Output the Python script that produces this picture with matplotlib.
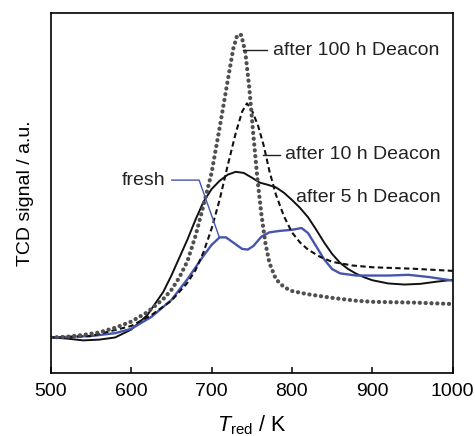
import matplotlib
matplotlib.use('Agg')
import matplotlib.pyplot as plt

plt.rcParams['font.family'] = ['Liberation Sans', 'DejaVu Sans']
plt.rcParams['mathtext.fontset'] = 'custom'
plt.rcParams['mathtext.rm'] = 'Liberation Sans'
plt.rcParams['mathtext.it'] = 'Liberation Sans:italic'

# TPR-Kurven (willkürliche Einheiten)
t_100h = [500, 520, 540, 560, 580, 600, 620, 640, 650, 660, 670, 680, 690, 700, 710, 720,
          727, 732, 737, 742, 747, 752, 757, 762, 767, 772, 780, 790, 800, 820, 850, 880,
          900, 950, 1000]
s_100h = [0.98, 1.00, 1.05, 1.12, 1.25, 1.42, 1.68, 2.05, 2.30, 2.65, 3.10, 3.80, 4.65, 5.55,
          6.80, 8.10, 9.00, 9.38, 9.38, 8.90, 7.90, 6.60, 5.40, 4.40, 3.60, 3.05, 2.60, 2.38,
          2.27, 2.18, 2.08, 2.00, 1.97, 1.95, 1.91]

t_10h = [500, 550, 600, 625, 650, 670, 680, 690, 700, 710, 720, 730, 738, 744, 750, 758, 765,
         772, 780, 790, 800, 810, 820, 835, 850, 875, 900, 950, 1000]
s_10h = [0.98, 1.02, 1.30, 1.60, 2.00, 2.50, 2.85, 3.35, 4.00, 4.80, 5.75, 6.65, 7.25, 7.48,
         7.30, 6.85, 6.30, 5.60, 4.95, 4.35, 3.90, 3.62, 3.42, 3.22, 3.08, 2.98, 2.93, 2.89, 2.83]

t_5h = [500, 520, 540, 560, 580, 600, 620, 640, 650, 660, 670, 680, 690, 700, 710, 720, 730,
        740, 750, 760, 770, 780, 790, 800, 810, 820, 830, 840, 850, 860, 870, 880, 890, 900,
        920, 940, 960, 980, 1000]
s_5h = [0.98, 0.95, 0.90, 0.92, 0.98, 1.20, 1.60, 2.25, 2.70, 3.20, 3.70, 4.25, 4.75, 5.10,
        5.33, 5.50, 5.58, 5.55, 5.42, 5.28, 5.22, 5.15, 5.00, 4.80, 4.58, 4.32, 3.98, 3.62,
        3.30, 3.05, 2.88, 2.75, 2.65, 2.57, 2.48, 2.45, 2.47, 2.53, 2.58]

t_fresh = [500, 550, 580, 600, 625, 650, 670, 690, 700, 710, 718, 728, 738, 745, 752, 762,
           772, 785, 800, 812, 820, 830, 840, 850, 860, 880, 900, 920, 945, 970, 1000]
s_fresh = [0.98, 1.02, 1.10, 1.22, 1.55, 2.02, 2.60, 3.25, 3.55, 3.76, 3.76, 3.60, 3.44, 3.42,
           3.52, 3.78, 3.90, 3.94, 3.97, 4.02, 3.88, 3.52, 3.15, 2.88, 2.76, 2.70, 2.70, 2.70,
           2.72, 2.66, 2.56]

fig = plt.figure(figsize=(4.75, 4.36), dpi=100)
ax = fig.add_axes([0.107, 0.145, 0.846, 0.826])

ax.plot(t_5h, s_5h, color='#111111', lw=1.4)
ax.plot(t_fresh, s_fresh, color='#4655ae', lw=1.7)
ax.plot(t_10h, s_10h, color='#111111', lw=1.5, linestyle=(0, (2.6, 1.6)))
ax.plot(t_100h, s_100h, color='#505050', lw=3.0, linestyle=(0, (0.05, 1.35)),
        dash_capstyle='round')

# Beschriftungen
fs = 14
ax.plot([739.7, 768.7], [8.96, 8.96], color='#222222', lw=1.0)
ax.text(777, 8.96, 'after 100 h Deacon', fontsize=fs, ha='left', va='center', color='#222222')
ax.plot([764.5, 785], [6.06, 6.06], color='#222222', lw=1.0)
ax.text(791.5, 6.06, 'after 10 h Deacon', fontsize=fs, ha='left', va='center', color='#222222')
ax.text(804.7, 4.86, 'after 5 h Deacon', fontsize=fs, ha='left', va='center', color='#222222')
ax.plot([650.5, 684.5, 709.4], [5.35, 5.35, 3.78], color='#4655ae', lw=1.0)
ax.text(643, 5.35, 'fresh', fontsize=fs, ha='right', va='center', color='#222222')

ax.set_xlim(500, 1000)
ax.set_ylim(0, 10)
ax.set_xticks([500, 600, 700, 800, 900, 1000])
ax.set_yticks([])
ax.tick_params(axis='x', direction='in', length=4, width=1.1, labelsize=14, pad=7,
               top=False)
for sp in ax.spines.values():
    sp.set_linewidth(1.2)

ax.set_ylabel('TCD signal / a.u.', fontsize=14, labelpad=12)
ax.set_xlabel(r'$T_{\mathrm{red}}$ / K', fontsize=15.5, labelpad=10)

fig.savefig('out.png', dpi=100)
